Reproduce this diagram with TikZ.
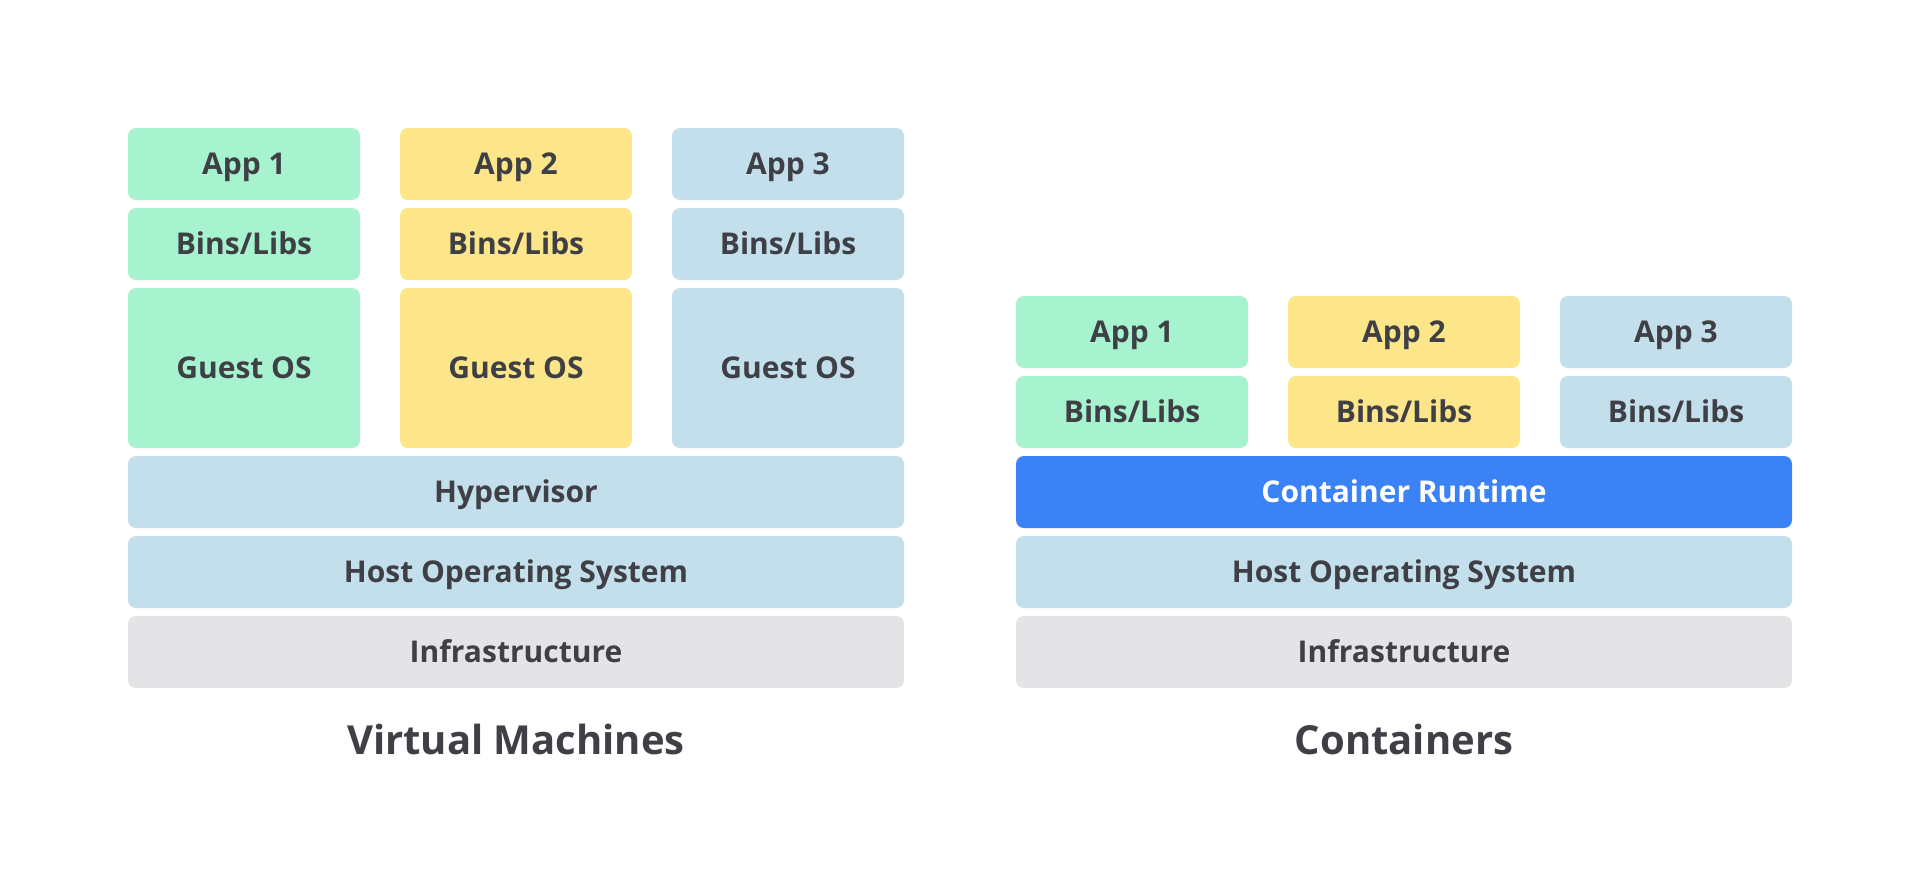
\documentclass[tikz,border=0pt]{standalone}
\usepackage{fontspec}
\setmainfont{Open Sans}
\definecolor{cgreen}{HTML}{A7F3D0}
\definecolor{cyellow}{HTML}{FDE68A}
\definecolor{cblue}{HTML}{C3DFEC}
\definecolor{cgray}{HTML}{E4E4E7}
\definecolor{cruntime}{HTML}{3B82F6}
\definecolor{ctext}{HTML}{3F3F46}
\tikzset{
  layer/.style={rounded corners=8pt, inner sep=0pt, minimum height=72pt,
    text=ctext, font=\fontsize{30}{35}\selectfont\bfseries,
    text height=21.4pt, text depth=0pt},
  col/.style={layer, minimum width=232pt},
  wide/.style={layer, minimum width=776pt},
  title/.style={text=ctext, font=\fontsize{40}{46}\selectfont\bfseries,
    inner sep=0pt, text height=28.6pt, text depth=0pt}
}
\begin{document}
\begin{tikzpicture}[x=1pt,y=-1pt]
\useasboundingbox (0,0) rectangle (1920,883);
% Virtual machines
\node[col, fill=cgreen] (va1) at (244,164) {App 1};
\node[col, fill=cyellow] (va2) at (516,164) {App 2};
\node[col, fill=cblue] (va3) at (788,164) {App 3};
\node[col, fill=cgreen] (vb1) at (244,244) {Bins/Libs};
\node[col, fill=cyellow] (vb2) at (516,244) {Bins/Libs};
\node[col, fill=cblue] (vb3) at (788,244) {Bins/Libs};
\node[col, fill=cgreen, minimum height=160pt] (vg1) at (244,368) {Guest OS};
\node[col, fill=cyellow, minimum height=160pt] (vg2) at (516,368) {Guest OS};
\node[col, fill=cblue, minimum height=160pt] (vg3) at (788,368) {Guest OS};
\node[wide, fill=cblue] (vhyp) at (516,492) {Hypervisor};
\node[wide, fill=cblue] (vhost) at (516,572) {Host Operating System};
\node[wide, fill=cgray] (vinf) at (516,652) {Infrastructure};
\node[title] (vtitle) at (516,740) {Virtual Machines};
% Containers
\node[col, fill=cgreen] (ca1) at (1132,332) {App 1};
\node[col, fill=cyellow] (ca2) at (1404,332) {App 2};
\node[col, fill=cblue] (ca3) at (1676,332) {App 3};
\node[col, fill=cgreen] (cb1) at (1132,412) {Bins/Libs};
\node[col, fill=cyellow] (cb2) at (1404,412) {Bins/Libs};
\node[col, fill=cblue] (cb3) at (1676,412) {Bins/Libs};
\node[wide, fill=cruntime, text=white] (crt) at (1404,492) {Container Runtime};
\node[wide, fill=cblue] (chost) at (1404,572) {Host Operating System};
\node[wide, fill=cgray] (cinf) at (1404,652) {Infrastructure};
\node[title] (ctitle) at (1404,740) {Containers};
\end{tikzpicture}
\end{document}
